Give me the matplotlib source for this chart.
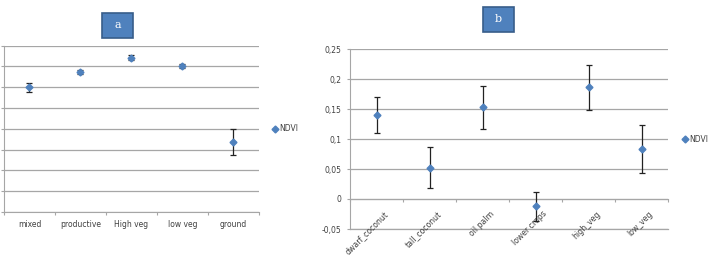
import matplotlib

matplotlib.use("Agg")
import matplotlib.pyplot as plt  # noqa: E402
import matplotlib.transforms as mtransforms  # noqa: E402
from matplotlib.lines import Line2D  # noqa: E402
from matplotlib.patches import Rectangle  # noqa: E402
from matplotlib.ticker import FuncFormatter  # noqa: E402

# panel a (no y labels visible in source, arbitrary scale)
CATS_A = ["mixed", "productive", "High veg", "low veg", "ground"]
NDVI_A = [0.60, 0.673, 0.742, 0.70, 0.337]
ERR_A = [0.022, 0.01, 0.012, 0.01, 0.064]

# panel b
CATS_B = ["dwarf_coconut", "tall_coconut", "oil palm", "lower crops", "high_veg", "low_veg"]
NDVI_B = [0.140, 0.052, 0.153, -0.012, 0.186, 0.083]
ERR_B = [0.030, 0.034, 0.036, 0.024, 0.038, 0.040]
YMIN_B, YMAX_B = -0.05, 0.25

MARKER_COLOR = "#4F81BD"
GRID_COLOR = "#A6A6A6"
TEXT_COLOR = "#404040"
W, H = 716, 256


def style_axes(ax):
    for side in ("top", "right"):
        ax.spines[side].set_visible(False)
    for side in ("left", "bottom"):
        ax.spines[side].set_color(GRID_COLOR)
        ax.spines[side].set_linewidth(0.8)
    ax.grid(True, axis="y", color=GRID_COLOR, linewidth=0.9)
    ax.set_axisbelow(True)
    ax.tick_params(axis="both", colors=GRID_COLOR, labelcolor=TEXT_COLOR,
                   labelsize=5.5, length=2.5, width=0.8)


def draw_panel(ax, cats, values, errs):
    xs = list(range(len(cats)))
    ax.errorbar(xs, values, yerr=errs, fmt="D", color=MARKER_COLOR,
                markersize=3.5, ecolor="#222222", elinewidth=0.9,
                capsize=2, capthick=0.9, zorder=3)
    ax.set_xlim(-0.5, len(cats) - 0.5)
    ax.set_xticks([x + 0.5 for x in xs[:-1]] + [-0.5, len(cats) - 0.5])
    ax.set_xticklabels([])
    ax.set_xticks(xs, minor=True)
    ax.tick_params(axis="x", which="minor", length=0)
    handle = Line2D([], [], marker="D", linestyle="none", color=MARKER_COLOR,
                    markersize=3.5)
    ax.legend([handle], ["NDVI"], loc="center left", bbox_to_anchor=(1.02, 0.5),
              frameon=False, fontsize=5.5, handletextpad=0.1, handlelength=1.0,
              labelcolor=TEXT_COLOR)


def letter_box(fig, x0, y0, x1, y1, letter):
    fig.patches.append(Rectangle((x0 / W, 1 - y1 / H), (x1 - x0) / W, (y1 - y0) / H,
                                 transform=fig.transFigure, facecolor=MARKER_COLOR,
                                 edgecolor="#385D8A", linewidth=1.2))
    fig.text((x0 + x1) / 2 / W, 1 - (y0 + y1) / 2 / H, letter, ha="center",
             va="center", color="white", fontsize=8, family="serif")


fig = plt.figure(figsize=(7.16, 2.56), dpi=100)

# panel a
ax_a = fig.add_axes([0.0056, 0.172, 0.356, 0.65])
style_axes(ax_a)
draw_panel(ax_a, CATS_A, NDVI_A, ERR_A)
ax_a.set_xticklabels(CATS_A, minor=True)
ax_a.tick_params(axis="x", which="minor", labelsize=5.5, labelcolor=TEXT_COLOR, pad=6)
ax_a.set_ylim(0, 0.8)
ax_a.set_yticks([i / 10 for i in range(9)])
ax_a.set_yticklabels([])

# panel b: category axis crosses at 0, -0.05 is just a gridline
ax_b = fig.add_axes([350 / W, 1 - 229 / H, 318 / W, 180 / H])
style_axes(ax_b)
draw_panel(ax_b, CATS_B, NDVI_B, ERR_B)
ax_b.spines["bottom"].set_position(("data", 0))
ax_b.axhline(YMIN_B, color=GRID_COLOR, linewidth=0.9, clip_on=False, zorder=0.5)
ax_b.set_xticklabels(CATS_B, minor=True, rotation=45, ha="right",
                     rotation_mode="anchor")
ax_b.tick_params(axis="x", which="minor", labelsize=5.6, labelcolor=TEXT_COLOR, pad=7.5)
shift = mtransforms.ScaledTranslation(7 / 100, 0, fig.dpi_scale_trans)
for lbl in ax_b.get_xticklabels(minor=True):
    lbl.set_transform(lbl.get_transform() + shift)
ax_b.set_ylim(YMIN_B, YMAX_B)
ax_b.set_yticks([-0.05, 0, 0.05, 0.1, 0.15, 0.2, 0.25])
ax_b.yaxis.set_major_formatter(
    FuncFormatter(lambda v, _: ("%g" % round(v, 2)).replace(".", ",")))

# panel letter boxes
letter_box(fig, 102, 13, 133, 38, "a")
letter_box(fig, 483, 7, 514, 32, "b")

fig.savefig("out.png", dpi=100)
